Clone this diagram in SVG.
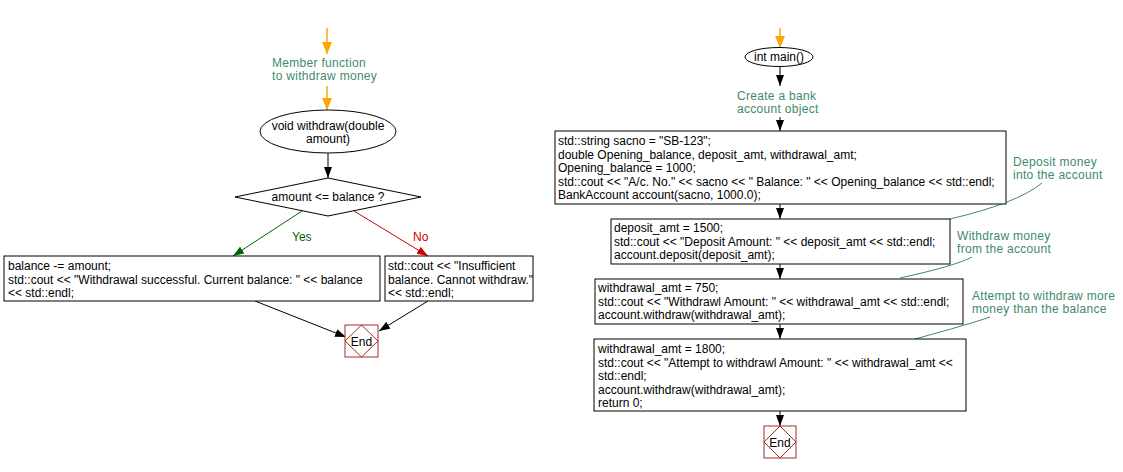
<svg xmlns="http://www.w3.org/2000/svg" width="1123" height="472" viewBox="0 0 1123 472">
<defs>
<marker id="ab" markerUnits="userSpaceOnUse" markerWidth="12" markerHeight="12" refX="11" refY="4" orient="auto"><path d="M0,0 L11,4 L0,8 Z" fill="#000"/></marker>
<marker id="ao" markerUnits="userSpaceOnUse" markerWidth="14" markerHeight="14" refX="12" refY="5" orient="auto"><path d="M0,0 L12,5 L0,10 Z" fill="#FFA500"/></marker>
<marker id="ag" markerUnits="userSpaceOnUse" markerWidth="12" markerHeight="12" refX="11" refY="4" orient="auto"><path d="M0,0 L11,4 L0,8 Z" fill="#006400"/></marker>
<marker id="ar" markerUnits="userSpaceOnUse" markerWidth="12" markerHeight="12" refX="11" refY="4" orient="auto"><path d="M0,0 L11,4 L0,8 Z" fill="#D00000"/></marker>
</defs>
<style>
text{font-family:"Liberation Sans",Arial,sans-serif;font-size:12px;fill:#000}
.box{fill:#fff;stroke:#000;stroke-width:1}
.c{text-anchor:middle}
.note{fill:#3E8A6A;letter-spacing:0.3px}
.end{fill:#fff;stroke:#A52A2A;stroke-width:1}
.endd{fill:none;stroke:#A52A2A;stroke-width:1}
.k{stroke:#000;stroke-width:1;fill:none;marker-end:url(#ab)}
.o{stroke:#FFA500;stroke-width:1.5;fill:none;marker-end:url(#ao)}
.nl{stroke:#3E8A6A;stroke-width:1;fill:none}
</style>
<rect width="1123" height="472" fill="#fff"/>

<g id="connectors">
<line class="o" x1="327" y1="28" x2="327" y2="54"/>
<line class="o" x1="327" y1="86" x2="327" y2="110"/>
<line class="k" x1="328" y1="153" x2="328" y2="178"/>
<line x1="302" y1="211" x2="233" y2="256" stroke="#006400" stroke-width="1" marker-end="url(#ag)"/>
<line x1="354" y1="211" x2="428" y2="256" stroke="#D00000" stroke-width="1" marker-end="url(#ar)"/>
<line class="k" x1="255" y1="301" x2="346" y2="337"/>
<line class="k" x1="428" y1="301" x2="379" y2="331"/>
<line class="o" x1="780" y1="28" x2="780" y2="48"/>
<line class="k" x1="780" y1="66" x2="780" y2="86"/>
<line class="k" x1="780" y1="117" x2="780" y2="131"/>
<line class="k" x1="780" y1="204" x2="780" y2="219"/>
<line class="k" x1="780" y1="264" x2="780" y2="279"/>
<line class="k" x1="780" y1="324" x2="780" y2="339"/>
<line class="k" x1="780" y1="411" x2="780" y2="426"/>
<path class="nl" d="M1042,183 Q1018,203 950,219"/>
<path class="nl" d="M972,257 Q955,266 900,278"/>
<path class="nl" d="M990,317 Q970,324 915,339"/>
</g>

<g id="note-member">
<text class="note" x="272" y="67">Member function</text>
<text class="note" x="272" y="80">to withdraw money</text>
</g>

<g id="n-withdraw">
<ellipse cx="328" cy="131.5" rx="68" ry="21.5" class="box"/>
<text class="c" x="328" y="130">void withdraw(double</text>
<text class="c" x="328" y="143">amount)</text>
</g>

<g id="n-cond">
<polygon class="box" points="328,178 421,197 328,216 235,197"/>
<text class="c" x="328" y="201">amount &lt;= balance ?</text>
</g>

<g id="label-yes"><text x="292" y="241" style="fill:#006400">Yes</text></g>
<g id="label-no"><text x="413" y="241" style="fill:#D00000">No</text></g>

<g id="n-success">
<rect class="box" x="4" y="256" width="376" height="45"/>
<text x="8" y="270">balance -= amount;</text>
<text x="8" y="284">std::cout &lt;&lt; "Withdrawal successful. Current balance: " &lt;&lt; balance</text>
<text x="8" y="297">&lt;&lt; std::endl;</text>
</g>

<g id="n-insufficient">
<rect class="box" x="385" y="256" width="148" height="45"/>
<text x="388" y="270">std::cout &lt;&lt; "Insufficient</text>
<text x="388" y="284">balance. Cannot withdraw."</text>
<text x="388" y="297">&lt;&lt; std::endl;</text>
</g>

<g id="n-end1">
<rect class="end" x="345" y="325" width="33" height="32"/>
<polygon class="endd" points="361.5,325 378,341 361.5,357 345,341"/>
<text class="c" x="361.5" y="345.5">End</text>
</g>

<g id="n-main">
<ellipse class="box" cx="779" cy="57" rx="34" ry="9.5"/>
<text class="c" x="779" y="61">int main()</text>
</g>

<g id="note-create">
<text class="note" x="737" y="100">Create a bank</text>
<text class="note" x="737" y="113">account object</text>
</g>

<g id="n-init">
<rect class="box" x="555" y="131" width="451" height="73"/>
<text x="558" y="145">std::string sacno = "SB-123";</text>
<text x="558" y="158.5">double Opening_balance, deposit_amt, withdrawal_amt;</text>
<text x="558" y="172">Opening_balance = 1000;</text>
<text x="558" y="185.5">std::cout &lt;&lt; "A/c. No." &lt;&lt; sacno &lt;&lt; " Balance: " &lt;&lt; Opening_balance &lt;&lt; std::endl;</text>
<text x="558" y="199">BankAccount account(sacno, 1000.0);</text>
</g>

<g id="n-deposit">
<rect class="box" x="611" y="219" width="339" height="45"/>
<text x="614" y="232">deposit_amt = 1500;</text>
<text x="614" y="245.5">std::cout &lt;&lt; "Deposit Amount: " &lt;&lt; deposit_amt &lt;&lt; std::endl;</text>
<text x="614" y="259">account.deposit(deposit_amt);</text>
</g>

<g id="n-withdraw1">
<rect class="box" x="595" y="279" width="368" height="45"/>
<text x="598" y="292">withdrawal_amt = 750;</text>
<text x="598" y="305.5">std::cout &lt;&lt; "Withdrawl Amount: " &lt;&lt; withdrawal_amt &lt;&lt; std::endl;</text>
<text x="598" y="319">account.withdraw(withdrawal_amt);</text>
</g>

<g id="n-withdraw2">
<rect class="box" x="594" y="339" width="372" height="72"/>
<text x="598" y="353">withdrawal_amt = 1800;</text>
<text x="598" y="366.5">std::cout &lt;&lt; "Attempt to withdrawl Amount: " &lt;&lt; withdrawal_amt &lt;&lt;</text>
<text x="598" y="380">std::endl;</text>
<text x="598" y="393.5">account.withdraw(withdrawal_amt);</text>
<text x="598" y="407">return 0;</text>
</g>

<g id="n-end2">
<rect class="end" x="764" y="426" width="32" height="32"/>
<polygon class="endd" points="780,426 796,442 780,458 764,442"/>
<text class="c" x="780" y="446.5">End</text>
</g>

<g id="note-deposit">
<text class="note" x="1013" y="166">Deposit money</text>
<text class="note" x="1013" y="179">into the account</text>
</g>
<g id="note-withdraw">
<text class="note" x="957" y="240">Withdraw money</text>
<text class="note" x="957" y="253">from the account</text>
</g>
<g id="note-attempt">
<text class="note" x="972" y="300">Attempt to withdraw more</text>
<text class="note" x="972" y="313">money than the balance</text>
</g>
</svg>
